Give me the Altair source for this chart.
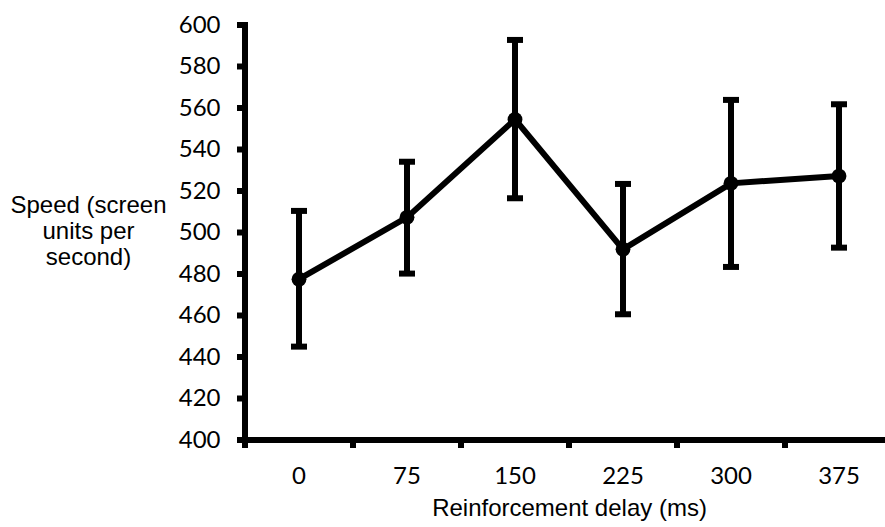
import altair as alt
import pandas as pd

delays = ["0", "75", "150", "225", "300", "375"]
means = [477.5, 507.3, 554.5, 491.9, 523.7, 527.2]
upper = [510.4, 534.1, 592.8, 523.4, 563.9, 561.8]
lower = [445.0, 480.2, 516.5, 460.6, 483.4, 492.7]
y_ticks = [400, 420, 440, 460, 480, 500, 520, 540, 560, 580, 600]

df = pd.DataFrame({"delay": delays, "speed": means, "upper": upper, "lower": lower})
ticks_df = pd.DataFrame({"tick": y_ticks})

y_title = ["Speed (screen", "units per", "second)"]

common = dict(
    grid=False,
    domain=False,
    ticks=False,
    tickSize=0,
    labelFont="Lato",
    labelFontSize=24,
    labelColor="black",
    titleFont="Liberation Sans",
    titleFontSize=24,
    titleFontWeight="normal",
    titleColor="black",
)

# the axis runs on past the right edge of the picture, as in the reference
x_scale = alt.Scale(paddingInner=0, paddingOuter=0, range=[0, 648])
x_axis = alt.Axis(
    title="Reinforcement delay (ms)",
    labelAngle=0,
    labelPadding=24,
    titlePadding=8,
    **common,
)
x_enc = alt.X("delay:N", sort=delays, scale=x_scale, axis=x_axis)

y_axis = alt.Axis(
    values=y_ticks,
    title=y_title,
    titleAngle=0,
    titleX=-157,
    titleY=180,
    titleAlign="center",
    titleBaseline="middle",
    titleLineHeight=26,
    labelPadding=25,
    **common,
)
y_scale = alt.Scale(domain=[400, 600], nice=False, zero=False)

base = alt.Chart(df)

line = base.mark_line(color="black", strokeWidth=6).encode(
    x=x_enc, y=alt.Y("speed:Q", scale=y_scale, axis=y_axis)
)
pts = base.mark_point(filled=True, color="black", size=220, opacity=1).encode(
    x=x_enc, y=alt.Y("speed:Q", scale=y_scale, axis=y_axis)
)
bars = base.mark_rule(color="black", strokeWidth=6).encode(
    x=x_enc, y=alt.Y("lower:Q", scale=y_scale, axis=y_axis), y2="upper:Q"
)
cap_lo = base.mark_tick(color="black", size=16, thickness=6, opacity=1).encode(
    x=x_enc, y=alt.Y("lower:Q", scale=y_scale, axis=y_axis)
)
cap_hi = base.mark_tick(color="black", size=16, thickness=6, opacity=1).encode(
    x=x_enc, y=alt.Y("upper:Q", scale=y_scale, axis=y_axis)
)

# thick axis lines and tick marks, as in the reference
y_line = base.mark_rule(color="black", strokeWidth=6, strokeCap="square").encode(
    x=alt.value(0), y=alt.value(0), y2=alt.value(415)
)
x_line = base.mark_rule(color="black", strokeWidth=6, strokeCap="square").encode(
    y=alt.value(415), x=alt.value(0), x2=alt.value(640)
)
y_tick_marks = alt.Chart(ticks_df).mark_rule(color="black", strokeWidth=6).encode(
    y=alt.Y("tick:Q", scale=y_scale, axis=y_axis), x=alt.value(-8), x2=alt.value(0)
)
x_tick_marks = base.mark_rule(color="black", strokeWidth=6).encode(
    x=alt.X("delay:N", sort=delays, bandPosition=0, scale=x_scale, axis=x_axis),
    y=alt.value(415),
    y2=alt.value(423),
)

chart = (
    alt.layer(bars, cap_lo, cap_hi, line, pts, y_tick_marks, x_tick_marks, y_line, x_line)
    .properties(
        width=640,
        height=415,
        autosize=alt.AutoSizeParams(type="none"),
        padding={"left": 245, "top": 25, "right": 0, "bottom": 87},
        background="white",
    )
    .configure_view(stroke=None)
)

chart.save("out.html", embed_options={"renderer": "svg", "actions": False})
